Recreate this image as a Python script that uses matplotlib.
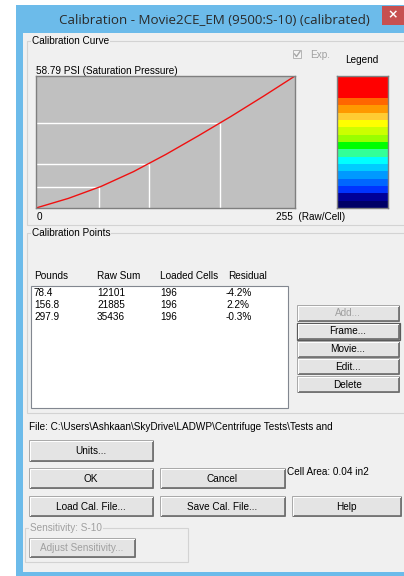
import matplotlib
matplotlib.use("Agg")
import matplotlib.pyplot as plt
from matplotlib.patches import Rectangle
import numpy as np

W, H = 404, 576

# ── Chart data ────────────────────────────────────────────────────────────────
SAT_PSI = 58.79
RAW_MAX = 255

CURVE_RAW = [0, 32, 64, 96, 128, 160, 192, 224, 255]
CURVE_PSI = [0.0, 4.3, 9.6, 16.2, 23.9, 32.2, 40.8, 49.8, 58.79]

POUNDS       = ["78.4", "156.8", "297.9"]
RAW_SUM      = [12101, 21885, 35436]
LOADED_CELLS = [196, 196, 196]
RESIDUAL     = ["-4.2%", "2.2%", "-0.3%"]
POINT_PSI    = [9.4, 19.7, 37.7]

LEGEND_COLOURS = ["#ff0000", "#ff6600", "#ff9900", "#ffcc33", "#ffff00", "#ccff00",
                  "#99ff00", "#00ff00", "#33ff99", "#00ffff", "#00ccff", "#0099ff",
                  "#0066ff", "#0033ff", "#000099", "#000066"]
LEGEND_UNITS = [3, 1, 1, 1, 1, 1, 1, 1, 1, 1, 1, 1, 1, 1, 1, 1]

TITLE = "Calibration - Movie2CE_EM (9500:S-10) (calibrated)"
FILE_TEXT = r"File: C:\Users\Ashkaan\SkyDrive\LADWP\Centrifuge Tests\Tests and"

# ── Style ─────────────────────────────────────────────────────────────────────
FACE   = "#f0f0f0"
FRAME  = "#6cbbea"
GROUP  = "#d3d3d3"
GREY_T = "#a0a0a0"
UI_FONT = ["Liberation Sans", "DejaVu Sans"]
UI_SIZE = 7.2

plt.rcParams["font.family"] = UI_FONT

fig = plt.figure(figsize=(W / 100, H / 100), dpi=100)
fig.patch.set_facecolor("white")

bg = fig.add_axes([0, 0, 1, 1])
bg.set_xlim(0, W)
bg.set_ylim(H, 0)
bg.axis("off")


def px_axes(x0, y0, x1, y1):
    return fig.add_axes([x0 / W, 1 - y1 / H, (x1 - x0) / W, (y1 - y0) / H])


def label(x, y, s, color="black", size=UI_SIZE, ha="left", **kw):
    bg.text(x, y, s, color=color, fontsize=size, ha=ha, va="center", **kw)


def group_box(x0, y0, x1, y1, title, color="black"):
    bg.add_patch(Rectangle((x0, y0), x1 - x0, y1 - y0, fill=False,
                           edgecolor=GROUP, linewidth=0.8))
    bg.text(x0 + 5, y0, title, color=color, fontsize=UI_SIZE, va="center",
            bbox=dict(facecolor=FACE, edgecolor="none", pad=0.6))


def button(x0, y0, x1, y1, text, enabled=True, focused=False):
    bg.add_patch(Rectangle((x0, y0), x1 - x0, y1 - y0, facecolor="#e4e4e4",
                           edgecolor="#a8a8a8", linewidth=0.7))
    # 3D shadow on bottom / right
    bg.plot([x0 + 1, x1, x1], [y1, y1, y0 + 1], color="#6a6a6a", linewidth=1.2,
            solid_capstyle="butt")
    bg.plot([x0 + 1, x0 + 1, x1 - 1], [y1 - 1.5, y0 + 1, y0 + 1], color="white",
            linewidth=0.7)
    if focused:
        bg.add_patch(Rectangle((x0 - 0.5, y0 - 0.5), x1 - x0 + 1, y1 - y0 + 1,
                               fill=False, edgecolor="#5a5a5a", linewidth=0.9))
    label((x0 + x1) / 2, (y0 + y1) / 2 + 0.5, text,
          color="black" if enabled else GREY_T, ha="center")


# ── Window chrome ─────────────────────────────────────────────────────────────
bg.add_patch(Rectangle((16, 5), W - 16, H - 5, facecolor=FRAME, edgecolor="none"))
bg.add_patch(Rectangle((23, 33), W - 23, 539, facecolor=FACE, edgecolor="none"))
bg.add_patch(Rectangle((382, 6), W - 382, 19, facecolor="#c75050", edgecolor="none"))
bg.text(393, 15, "\u00d7", color="white", fontsize=9, ha="center", va="center",
        fontweight="bold", family="DejaVu Sans")
bg.text(214, 20, TITLE, color="#2a2a2a", fontsize=9.6, ha="center", va="center",
        family=["Open Sans", "DejaVu Sans"])

# ── Calibration Curve group ───────────────────────────────────────────────────
group_box(27, 41, W + 5, 225, "Calibration Curve")

bg.add_patch(Rectangle((293, 50), 8, 8, facecolor="#f4f4f4", edgecolor="#b5b5b5",
                       linewidth=0.7))
bg.plot([294.5, 296.5, 300], [54, 56.5, 51.5], color="#a8a8a8", linewidth=1.0)
label(310, 55, "Exp.", color=GREY_T)
label(362, 60, "Legend", ha="center")
label(36, 71, f"{SAT_PSI:.2f} PSI (Saturation Pressure)")
label(37, 217, "0")
label(276, 217, f"{RAW_MAX}  (Raw/Cell)")

ax = px_axes(36, 76, 295, 208)
ax.set_facecolor("#c0c0c0")
ax.set_xlim(0, RAW_MAX)
ax.set_ylim(0, SAT_PSI)
for sp in ax.spines.values():
    sp.set_color("#7f7f7f")
    sp.set_linewidth(1.0)
ax.set_xticks([])
ax.set_yticks([])

point_raw = [s / c for s, c in zip(RAW_SUM, LOADED_CELLS)]
for xr, yp in zip(point_raw, POINT_PSI):
    ax.plot([xr, xr], [0, yp], color="white", linewidth=1.0, solid_capstyle="butt")
    ax.plot([0, xr], [yp, yp], color="white", linewidth=1.0, solid_capstyle="butt")
ax.plot(CURVE_RAW, CURVE_PSI, color="#f01010", linewidth=1.0)

# colour legend bar
lg = px_axes(337, 76, 388, 208)
units = np.array(LEGEND_UNITS[::-1])
lg.bar(0, units, bottom=np.cumsum(units) - units, width=1.0,
       color=LEGEND_COLOURS[::-1], edgecolor="none")
lg.set_xlim(-0.5, 0.5)
lg.set_ylim(0, units.sum())
lg.set_xticks([])
lg.set_yticks([])
for sp in lg.spines.values():
    sp.set_color("#808080")
    sp.set_linewidth(1.0)

# ── Calibration Points group ──────────────────────────────────────────────────
group_box(27, 233, W + 5, 413, "Calibration Points")

for x, head in zip([34, 97, 160, 228], ["Pounds", "Raw Sum", "Loaded Cells", "Residual"]):
    label(x, 276, head)

bg.add_patch(Rectangle((31, 286), 257, 122, facecolor="white", edgecolor="#828790",
                       linewidth=0.8))
for i in range(len(POUNDS)):
    y = 293 + 12 * i
    label(34, y, POUNDS[i])
    label(97, y, str(RAW_SUM[i]))
    label(160, y, str(LOADED_CELLS[i]))
    label(226, y, RESIDUAL[i])

button(297, 305, 399, 321, "Add...", enabled=False)
button(297, 323, 399, 339, "Frame...", focused=True)
button(297, 341, 399, 357, "Movie...")
button(297, 358, 399, 374, "Edit...")
button(297, 376, 399, 392, "Delete")

# ── Bottom controls ───────────────────────────────────────────────────────────
label(29, 427, FILE_TEXT)
button(29, 440, 153, 461, "Units...")
button(29, 468, 153, 488, "OK")
button(160, 468, 285, 488, "Cancel")
label(287, 472, "Cell Area: 0.04 in2")
button(29, 496, 153, 516, "Load Cal. File...")
button(160, 496, 285, 516, "Save Cal. File...")
button(292, 496, 401, 516, "Help")

group_box(25, 528, 188, 562, "Sensitivity: S-10", color=GREY_T)
button(29, 538, 135, 557, "Adjust Sensitivity...", enabled=False)

fig.savefig("out.png", dpi=100)
